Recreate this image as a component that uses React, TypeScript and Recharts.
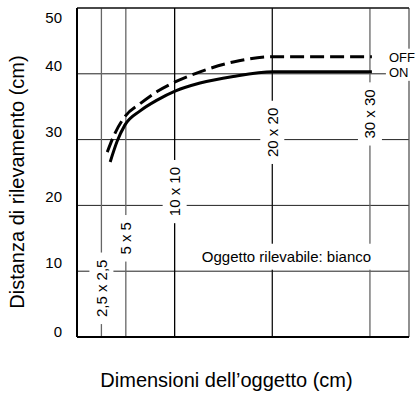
import { LineChart, Line, XAxis, YAxis, CartesianGrid, ReferenceLine, ReferenceDot } from "recharts";

const FONT = '"Liberation Sans", Arial, Helvetica, sans-serif';

// object sizes (cm), drawn as vertical lines with their label
const SIZE_X = [2.5, 5, 10, 20, 30];
const SIZE_LABELS = ["2,5 x 2,5", "5 x 5", "10 x 10", "20 x 20", "30 x 30"];
const SIZE_LABEL_AT = [7.4, 15.0, 22.1, 31.1, 33.9];
const SIZE_COLORS = ["#666", "#666", "#000", "#111", "#666"];

const Y_TICKS = [0, 10, 20, 30, 40, 50];

// detection distance curves
const ON_X = [3.4, 4.1, 4.9, 6.5, 8.2, 10.1, 12.6, 16, 20.1, 30.2];
const ON_Y = [26.6, 29.7, 32.2, 34.4, 36.0, 37.4, 38.6, 39.6, 40.3, 40.3];
const OFF_X = [3.1, 3.9, 4.9, 6.5, 8.2, 10.1, 12.6, 16, 20.1, 30.2];
const OFF_Y = [28.1, 31.0, 33.5, 35.5, 37.3, 38.8, 40.3, 41.8, 42.6, 42.6];

const onData = ON_X.map((x, i) => ({ x, y: ON_Y[i] }));
const offData = OFF_X.map((x, i) => ({ x, y: OFF_Y[i] }));

const charW = (s: string) =>
  s.split("").reduce((w, c) => w + (c === "," || c === " " ? 0.278 : c === "x" ? 0.5 : 0.556), 0) * 15;

const YTick = ({ x, y, payload }: any) => {
  const v = payload.value;
  const dy = v === 50 ? 9 : v === 0 ? -5 : -8;
  return (
    <text x={x} y={y + dy + 5} textAnchor="end" fontSize={15} fontFamily={FONT} fill="#000">
      {v}
    </text>
  );
};

const sizeLabel = (label: string) => (p: any) => {
  const h = charW(label) + 14;
  return (
    <g>
      <rect x={p.cx - 12} y={p.cy - h / 2} width={24} height={h} fill="#fff" />
      <text
        x={p.cx}
        y={p.cy}
        transform={`rotate(-90 ${p.cx} ${p.cy})`}
        textAnchor="middle"
        dominantBaseline="central"
        fontSize={15}
        fontFamily={FONT}
        fill="#000"
      >
        {label}
      </text>
    </g>
  );
};

const noteLabel = (p: any) => (
  <g>
    <rect x={p.cx - 90} y={p.cy - 13} width={180} height={26} fill="#fff" />
    <text x={p.cx} y={p.cy + 5} textAnchor="middle" fontSize={15} fontFamily={FONT} fill="#000">
      Oggetto rilevabile: bianco
    </text>
  </g>
);

const endLabel = (text: string) => (p: any) => (
  <g>
    <rect x={p.cx + 14} y={p.cy - 8} width={32} height={17} fill="#fff" />
    <text x={p.cx + 17} y={p.cy + 5} fontSize={13} fontFamily={FONT} fill="#000">
      {text}
    </text>
  </g>
);

export default function App() {
  return (
    <div style={{ position: "absolute", left: 0, top: 0, width: 419, height: 394, background: "#fff", fontFamily: FONT }}>
      <LineChart width={419} height={394} margin={{ top: 8, right: 10, bottom: 57, left: 0 }}>
        <CartesianGrid vertical={false} stroke="#222" strokeWidth={1} />
        <XAxis type="number" dataKey="x" domain={[0, 34]} hide allowDataOverflow />
        <YAxis
          type="number"
          domain={[0, 50]}
          ticks={Y_TICKS}
          width={77}
          tickLine={false}
          tickSize={0}
          tickMargin={15}
          axisLine={{ stroke: "#000", strokeWidth: 2 }}
          tick={<YTick />}
        />
        {SIZE_X.map((x, i) => (
          <ReferenceLine key={x} x={x} stroke={SIZE_COLORS[i]} strokeWidth={1.3} />
        ))}
        <ReferenceLine x={34} stroke="#555" strokeWidth={1.3} />
        <ReferenceLine y={0} stroke="#000" strokeWidth={2} />
        <ReferenceLine y={50} stroke="#000" strokeWidth={1.2} />
        <Line
          data={offData}
          dataKey="y"
          type="monotone"
          stroke="#000"
          strokeWidth={3}
          strokeDasharray="14 6"
          dot={false}
          isAnimationActive={false}
        />
        <Line data={onData} dataKey="y" type="monotone" stroke="#000" strokeWidth={3} dot={false} isAnimationActive={false} />
        {SIZE_X.map((x, i) => (
          <ReferenceDot key={"l" + x} x={x} y={SIZE_LABEL_AT[i]} r={0} shape={sizeLabel(SIZE_LABELS[i])} />
        ))}
        <ReferenceDot x={21.45} y={12.2} r={0} shape={noteLabel} />
        <ReferenceDot x={OFF_X[OFF_X.length - 1]} y={OFF_Y[OFF_Y.length - 1]} r={0} shape={endLabel("OFF")} />
        <ReferenceDot x={ON_X[ON_X.length - 1]} y={ON_Y[ON_Y.length - 1]} r={0} shape={endLabel("ON")} />
      </LineChart>
      <div
        style={{
          position: "absolute",
          left: 16.5 - 150,
          top: 181.5 - 12,
          width: 300,
          height: 24,
          lineHeight: "24px",
          fontSize: 20,
          textAlign: "center",
          transform: "rotate(-90deg)",
          whiteSpace: "nowrap",
        }}
      >
        Distanza di rilevamento (cm)
      </div>
      <div
        style={{
          position: "absolute",
          left: 226.5 - 150,
          top: 368,
          width: 300,
          height: 24,
          lineHeight: "24px",
          fontSize: 20,
          textAlign: "center",
          whiteSpace: "nowrap",
        }}
      >
        Dimensioni dell’oggetto (cm)
      </div>
    </div>
  );
}
